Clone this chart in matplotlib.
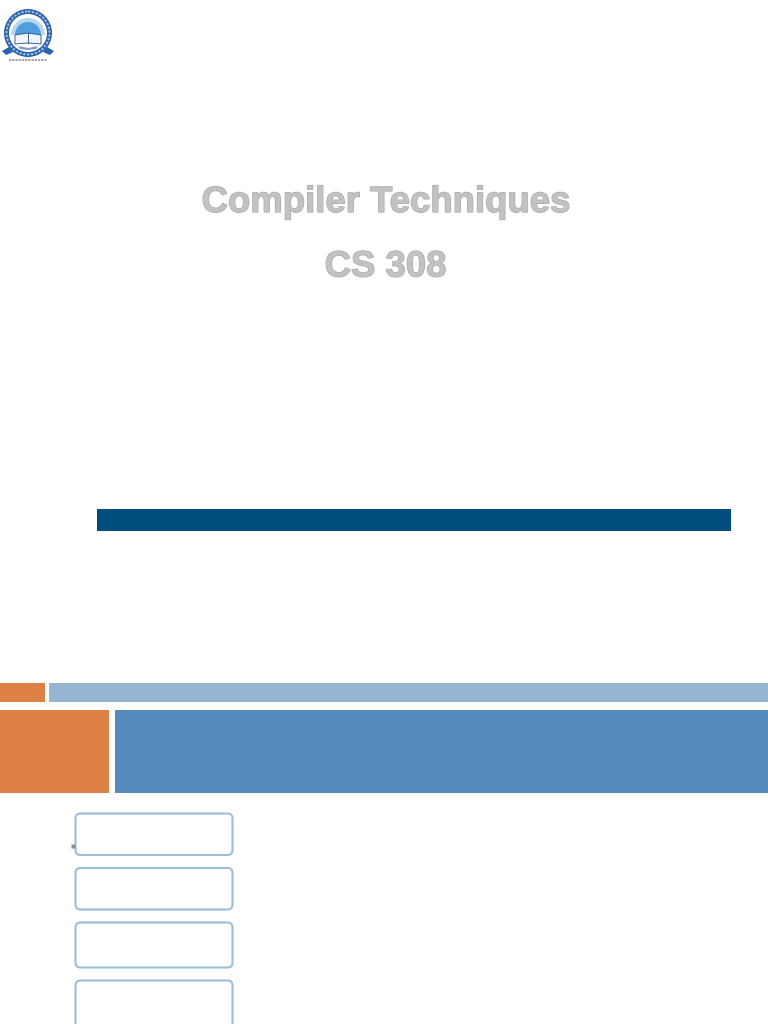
import matplotlib
matplotlib.use("Agg")
import matplotlib.pyplot as plt
import matplotlib.patheffects as pe
from matplotlib.patches import Rectangle, FancyBboxPatch, Circle, Polygon, Wedge

title_lines = ["Compiler Techniques", "CS 308"]
title_y = [202.5, 267]
# x, y, width, height, colour of the flat blocks (pixels of the page)
blocks = [
    (97, 509, 634, 22, "#014d7e"),
    (0, 683, 45, 19, "#de8144"),
    (49, 683, 719, 19, "#95b6d3"),
    (0, 710, 109, 83, "#de8144"),
    (115, 710, 653, 83, "#548bba"),
]
# x, y, width, height of the rounded outline boxes
boxes = [
    (75.5, 813.5, 157, 41.5),
    (75.5, 868, 157, 41.5),
    (75.5, 922.5, 157, 45),
    (75.5, 980.5, 157, 60),
]

fig = plt.figure(figsize=(7.68, 10.24), dpi=100, facecolor="white")
ax = fig.add_axes([0, 0, 1, 1])
ax.set_xlim(0, 768)
ax.set_ylim(1024, 0)
ax.axis("off")

for x, y, w, h, c in blocks:
    ax.add_patch(Rectangle((x, y), w, h, facecolor=c, edgecolor="none"))

for x, y, w, h in boxes:
    ax.add_patch(FancyBboxPatch((x + 4, y + 4), w - 8, h - 8,
                                boxstyle="round,pad=4,rounding_size=5",
                                facecolor="white", edgecolor="#9dbedb", linewidth=1.5))

ax.plot([72.5], [845.5], marker="s", ms=2.4, color="#8f8f8f", mec="none")

for s, y in zip(title_lines, title_y):
    ax.text(385.5, y, s, ha="center", va="center", family="Liberation Sans",
            weight="bold", fontsize=26.3, color="#c2c2c2",
            path_effects=[pe.withStroke(linewidth=0.9, foreground="#a8a8a8")])

# Logo approximation (y axis points down, so the upper half is 180-360 degrees)
cx, cy, r = 28, 33, 24
ax.add_patch(Circle((cx, cy), r, facecolor="#2a62ad", edgecolor="none"))
ax.add_patch(Circle((cx, cy), 21.5, facecolor="none", edgecolor="#a9bfdc",
                    lw=1.4, ls=(0, (1.2, 0.8))))
ax.add_patch(Circle((cx, cy), 19, facecolor="white", edgecolor="none"))
ax.add_patch(Wedge((cx, cy + 2), 17, 180, 360, facecolor="#b9d6ef", edgecolor="none"))
ax.add_patch(Wedge((cx, cy + 2), 13, 180, 360, facecolor="#4f9fdc", edgecolor="none"))
ax.add_patch(Polygon([(15, 35), (28, 33), (41, 35), (41, 44), (28, 43), (15, 44)],
                     closed=True, facecolor="#f2f5f9", edgecolor="#3a5f8f", lw=0.7))
ax.plot([28, 28], [33, 43], color="#3a5f8f", lw=0.7)
ax.add_patch(Polygon([(18, 46), (28, 48), (38, 46), (36, 49), (28, 50), (20, 49)],
                     closed=True, facecolor="#7d9cc6", edgecolor="none"))
ax.add_patch(Polygon([(2, 51), (9, 47), (13, 52), (6, 55)], closed=True,
                     facecolor="#2a62ad", edgecolor="none"))
ax.add_patch(Polygon([(54, 51), (47, 47), (43, 52), (50, 55)], closed=True,
                     facecolor="#2a62ad", edgecolor="none"))
ax.plot([9, 47], [59.5, 59.5], color="#8a8a8a", lw=1.1, ls=(0, (1.5, 0.6)))

fig.savefig("out.png", dpi=100, facecolor="white")
